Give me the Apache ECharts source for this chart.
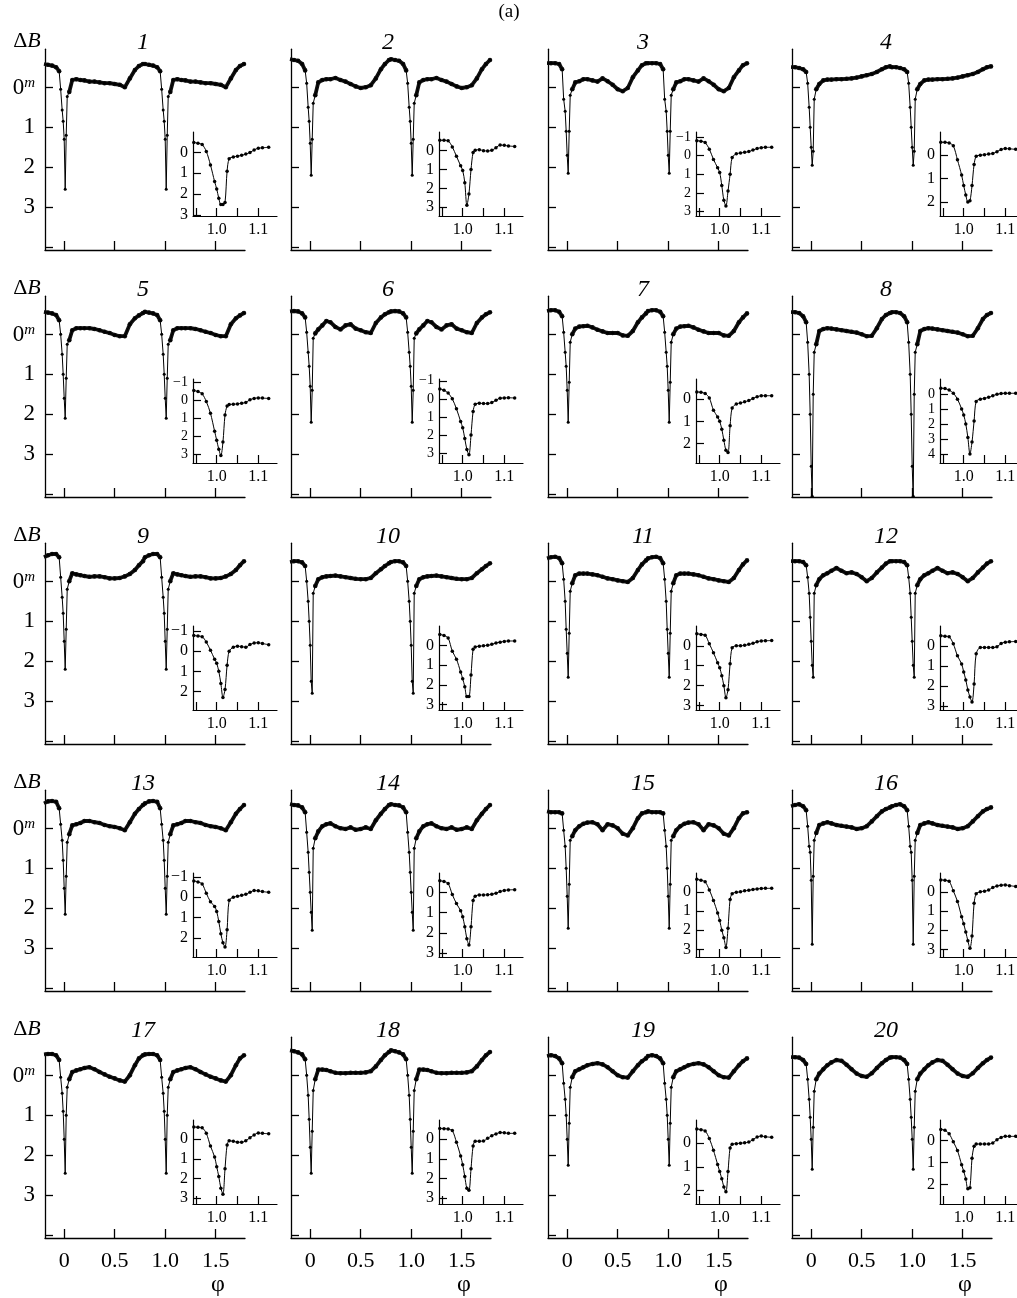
<!DOCTYPE html>
<html>
<head>
<meta charset="utf-8">
<script src="https://cdn.jsdelivr.net/npm/echarts@6/dist/echarts.min.js"></script>
<style>
html, body { margin: 0; padding: 0; background: #fff; }
#chart { width: 1017px; height: 1298px; }
</style>
</head>
<body>
<div id="chart"></div>
<script>
// Phase grid of one orbital cycle; every light curve is plotted at φ and at φ+1.
const phase = [-0.20,-0.16,-0.12,-0.08,-0.05,-0.035,-0.02,-0.01,0,0.01,0.02,0.03,0.05,0.08,0.12,0.16,0.20,0.25,0.30,0.35,0.40,0.45,0.50,0.55,0.60,0.65,0.70,0.74,0.78];

// ΔB (mag) of each night on the phase grid above.
const lc1  = [-0.58,-0.56,-0.54,-0.5,-0.4,0.05,0.57,0.85,1.3,2.55,1.2,0.23,0.12,-0.18,-0.2,-0.18,-0.17,-0.14,-0.14,-0.12,-0.1,-0.1,-0.08,-0.06,0.0,-0.22,-0.43,-0.53,-0.58];
const lc2  = [-0.7,-0.68,-0.66,-0.58,-0.42,-0.1,0.5,0.85,1.4,2.2,1.3,0.4,0.2,-0.12,-0.18,-0.2,-0.2,-0.23,-0.18,-0.14,-0.08,-0.02,0.02,0.0,-0.05,-0.22,-0.45,-0.58,-0.68];
const lc3  = [-0.6,-0.6,-0.6,-0.58,-0.45,0.3,0.6,1.1,1.7,2.15,1.1,0.2,0.05,-0.12,-0.15,-0.2,-0.2,-0.17,-0.14,-0.22,-0.15,-0.06,0.05,0.1,0.02,-0.25,-0.42,-0.55,-0.6];
const lc4  = [-0.5,-0.5,-0.48,-0.45,-0.38,-0.1,0.5,1.0,1.5,1.95,1.6,0.3,0.05,-0.08,-0.17,-0.19,-0.19,-0.2,-0.2,-0.21,-0.22,-0.24,-0.27,-0.3,-0.33,-0.38,-0.45,-0.5,-0.52];
const lc5  = [-0.56,-0.54,-0.52,-0.48,-0.35,0.0,0.5,1.0,1.6,2.1,1.1,0.25,0.15,-0.1,-0.15,-0.15,-0.15,-0.15,-0.13,-0.1,-0.06,-0.03,0.02,0.05,0.05,-0.25,-0.4,-0.47,-0.53];
const lc6  = [-0.57,-0.58,-0.57,-0.52,-0.42,-0.05,0.45,0.8,1.3,2.2,1.4,0.1,-0.02,-0.12,-0.22,-0.33,-0.3,-0.18,-0.12,-0.22,-0.25,-0.14,-0.1,-0.05,-0.03,-0.28,-0.42,-0.5,-0.55];
const lc7  = [-0.58,-0.6,-0.6,-0.56,-0.45,-0.05,0.45,0.8,1.4,2.2,1.2,0.2,0.0,-0.14,-0.19,-0.2,-0.21,-0.17,-0.11,-0.07,-0.03,-0.03,-0.03,0.03,0.04,-0.08,-0.3,-0.42,-0.52];
const lc8  = [-0.55,-0.55,-0.53,-0.45,-0.3,0.2,1.0,2.0,3.3,4.05,1.5,0.45,0.25,-0.08,-0.13,-0.15,-0.14,-0.12,-0.1,-0.08,-0.06,-0.04,0.0,0.05,0.04,-0.15,-0.38,-0.48,-0.53];
const lc9  = [-0.6,-0.65,-0.68,-0.68,-0.6,-0.1,0.4,0.8,1.5,2.2,1.2,0.2,0.0,-0.2,-0.17,-0.15,-0.13,-0.11,-0.12,-0.12,-0.1,-0.07,-0.07,-0.08,-0.12,-0.18,-0.28,-0.4,-0.5];
const lc10 = [-0.48,-0.5,-0.5,-0.47,-0.38,0.0,0.5,1.0,1.6,2.5,2.8,0.3,0.12,-0.05,-0.1,-0.12,-0.13,-0.14,-0.12,-0.1,-0.08,-0.06,-0.05,-0.05,-0.08,-0.2,-0.3,-0.38,-0.45];
const lc11 = [-0.57,-0.6,-0.61,-0.58,-0.45,-0.05,0.5,1.2,1.8,2.4,1.3,0.25,0.05,-0.15,-0.19,-0.19,-0.19,-0.17,-0.15,-0.11,-0.07,-0.05,-0.02,0.0,0.02,-0.08,-0.28,-0.42,-0.52];
const lc12 = [-0.5,-0.5,-0.5,-0.48,-0.4,-0.1,0.3,0.9,1.5,2.1,2.4,0.3,0.1,-0.05,-0.15,-0.2,-0.26,-0.33,-0.26,-0.2,-0.22,-0.18,-0.1,0.0,-0.08,-0.22,-0.34,-0.44,-0.5];
const lc13 = [-0.62,-0.67,-0.68,-0.66,-0.5,-0.1,0.3,0.8,1.5,2.15,1.2,0.35,0.15,-0.07,-0.1,-0.13,-0.18,-0.18,-0.15,-0.13,-0.08,-0.05,-0.03,0.0,0.05,-0.15,-0.36,-0.48,-0.58];
const lc14 = [-0.6,-0.58,-0.57,-0.52,-0.4,0.1,0.6,1.1,1.6,2.1,2.55,0.5,0.25,0.08,-0.05,-0.1,-0.12,-0.05,0.0,0.02,-0.02,0.04,0.02,-0.02,0.02,-0.2,-0.36,-0.48,-0.58];
const lc15 = [-0.42,-0.4,-0.4,-0.4,-0.37,0.05,0.45,1.0,1.7,2.5,1.4,0.3,0.2,0.05,-0.05,-0.11,-0.14,-0.15,-0.1,0.05,-0.1,-0.07,0.0,0.14,0.18,0.0,-0.25,-0.37,-0.4];
const lc16 = [-0.55,-0.58,-0.6,-0.55,-0.45,-0.05,0.45,0.6,1.3,2.9,1.2,0.3,0.12,-0.08,-0.12,-0.15,-0.12,-0.08,-0.06,-0.04,-0.02,0.02,0.0,-0.05,-0.17,-0.3,-0.42,-0.48,-0.52];
const lc17 = [-0.52,-0.53,-0.53,-0.5,-0.38,0.05,0.45,0.9,1.6,2.45,1.0,0.3,0.1,-0.08,-0.12,-0.15,-0.18,-0.2,-0.15,-0.08,-0.02,0.04,0.08,0.13,0.16,0.0,-0.25,-0.42,-0.5];
const lc18 = [-0.62,-0.6,-0.57,-0.52,-0.4,0.0,0.5,1.1,1.8,2.45,1.4,0.38,0.1,-0.14,-0.14,-0.13,-0.1,-0.06,-0.05,-0.05,-0.06,-0.06,-0.06,-0.07,-0.1,-0.22,-0.38,-0.5,-0.58];
const lc19 = [-0.48,-0.5,-0.48,-0.42,-0.3,0.2,0.6,1.0,1.6,2.25,1.2,0.3,0.05,-0.1,-0.15,-0.2,-0.25,-0.28,-0.3,-0.27,-0.2,-0.1,0.0,0.05,0.06,-0.1,-0.25,-0.35,-0.42];
const lc20 = [-0.45,-0.45,-0.44,-0.38,-0.28,0.1,0.6,1.05,1.6,2.35,1.3,0.4,0.1,-0.04,-0.15,-0.25,-0.32,-0.38,-0.36,-0.26,-0.15,-0.04,0.02,0.04,-0.05,-0.18,-0.3,-0.38,-0.44];

// Phases of the enlarged eclipse plots.
const insetPhase = [0.945,0.955,0.965,0.975,0.985,0.995,1.0,1.005,1.01,1.015,1.02,1.025,1.03,1.04,1.05,1.06,1.07,1.08,1.09,1.10,1.11,1.125];

// ΔB across the eclipse for each night.
const ec1  = [-0.48,-0.44,-0.38,-0.05,0.6,1.4,1.75,2.2,2.5,2.5,2.4,0.9,0.3,0.22,0.18,0.13,0.08,0.0,-0.12,-0.2,-0.22,-0.25];
const ec2  = [-0.55,-0.55,-0.52,-0.2,0.3,0.8,1.05,1.7,2.9,2.3,1.0,0.1,-0.02,-0.05,0.0,0.02,-0.02,-0.15,-0.3,-0.28,-0.25,-0.22];
const ec3  = [-0.8,-0.78,-0.7,-0.35,0.2,0.65,0.9,1.6,2.4,2.7,1.9,1.0,0.1,-0.1,-0.14,-0.18,-0.22,-0.3,-0.38,-0.43,-0.45,-0.45];
const ec4  = [-0.55,-0.55,-0.52,-0.4,0.2,0.85,1.3,1.7,2.0,1.95,1.3,0.4,0.05,0.0,-0.02,-0.05,-0.07,-0.15,-0.24,-0.28,-0.27,-0.25];
const ec5  = [-0.56,-0.5,-0.38,0.05,0.7,1.7,2.2,2.7,3.05,2.3,0.8,0.3,0.22,0.2,0.18,0.14,0.1,-0.05,-0.12,-0.15,-0.14,-0.12];
const ec6  = [-0.55,-0.48,-0.32,0.0,0.55,1.25,1.6,2.2,2.8,3.1,2.0,0.7,0.3,0.24,0.26,0.26,0.2,0.08,-0.04,-0.05,-0.06,-0.05];
const ec7  = [-0.32,-0.3,-0.25,-0.05,0.5,0.8,1.0,1.35,1.85,2.3,2.4,1.2,0.4,0.22,0.18,0.12,0.07,-0.03,-0.1,-0.15,-0.15,-0.15];
const ec8  = [-0.38,-0.35,-0.25,-0.05,0.35,1.0,1.4,2.0,2.9,4.0,3.2,1.8,0.5,0.35,0.3,0.22,0.12,0.03,-0.02,-0.04,-0.04,-0.04];
const ec9  = [-0.78,-0.75,-0.72,-0.45,-0.05,0.4,0.6,1.0,1.6,2.3,1.9,0.7,0.0,-0.2,-0.25,-0.22,-0.2,-0.33,-0.4,-0.42,-0.38,-0.32];
const ec10 = [-0.55,-0.5,-0.37,0.3,0.7,1.35,1.7,2.1,2.6,2.6,1.5,0.2,0.08,0.05,0.02,0.0,-0.05,-0.12,-0.16,-0.2,-0.22,-0.22];
const ec11 = [-0.6,-0.57,-0.53,-0.1,0.35,0.85,1.1,1.5,2.0,2.6,2.2,0.9,0.1,0.0,0.0,-0.02,-0.07,-0.12,-0.2,-0.24,-0.25,-0.26];
const ec12 = [-0.5,-0.48,-0.45,-0.1,0.5,0.9,1.3,1.7,2.2,2.55,2.8,1.9,0.4,0.08,0.08,0.08,0.08,0.05,-0.12,-0.18,-0.2,-0.22];
const ec13 = [-0.8,-0.76,-0.66,-0.2,0.22,0.45,0.7,1.2,1.8,2.25,2.45,1.6,0.15,0.0,-0.05,-0.1,-0.15,-0.25,-0.33,-0.32,-0.28,-0.25];
const ec14 = [-0.58,-0.55,-0.45,0.1,0.55,0.9,1.2,1.7,2.3,2.6,1.7,0.4,0.18,0.12,0.12,0.11,0.08,0.03,-0.05,-0.1,-0.13,-0.14];
const ec15 = [-0.65,-0.6,-0.52,-0.1,0.45,1.1,1.5,2.0,2.4,2.9,1.9,0.4,0.1,0.03,0.0,-0.05,-0.08,-0.12,-0.15,-0.17,-0.18,-0.18];
const ec16 = [-0.62,-0.6,-0.55,-0.05,0.5,1.3,1.67,2.1,2.55,2.95,2.3,0.6,0.1,0.0,-0.03,-0.1,-0.22,-0.3,-0.34,-0.36,-0.32,-0.28];
const ec17 = [-0.62,-0.61,-0.58,-0.3,0.35,0.9,1.4,1.9,2.5,2.8,1.5,0.3,0.08,0.1,0.15,0.15,0.08,-0.08,-0.22,-0.32,-0.3,-0.28];
const ec18 = [-0.55,-0.54,-0.52,-0.44,0.15,0.85,1.3,1.9,2.5,2.6,1.5,0.35,0.1,0.1,0.09,-0.05,-0.18,-0.27,-0.34,-0.33,-0.3,-0.3];
const ec19 = [-0.6,-0.57,-0.52,-0.2,0.3,0.9,1.2,1.5,1.85,2.05,1.2,0.2,0.05,0.02,0.0,-0.02,-0.05,-0.15,-0.26,-0.3,-0.27,-0.25];
const ec20 = [-0.52,-0.48,-0.32,0.05,0.45,1.1,1.4,1.75,2.2,2.15,0.8,0.25,0.15,0.15,0.15,0.15,0.1,-0.05,-0.15,-0.2,-0.2,-0.2];

// Tick positions and labels.
const phaseTicks = [0, 0.5, 1, 1.5];
const magTicks = [0, 1, 2, 3, 4];
const magLabels = [0, 1, 2, 3];
const insetPhaseTicks = [0.95, 1.0, 1.05, 1.1];
const insetPhaseLabels = [1.0, 1.1];

// Upper end (brightest ΔB) of each main panel's axis.
const panelTop = [-0.95,-0.95,-0.95,-0.95,-0.95,-0.95,-0.95,-0.95,-0.95,-0.95,-0.95,-0.95,-0.95,-0.95,-0.95,-0.95,-0.55,-0.95,-0.95,-0.95];
// ΔB range of each eclipse plot.
const insetRange = [[-0.98,3.05],[-0.99,3.47],[-1.27,3.24],[-0.99,2.6],[-1.2,3.46],[-1.1,3.55],[-0.9,2.87],[-0.99,4.6],[-1.25,2.92],[-0.98,3.28],
                    [-0.99,3.22],[-0.99,3.2],[-1.2,2.95],[-0.97,3.2],[-0.98,3.4],[-0.98,3.4],[-0.98,3.3],[-0.98,3.3],[-0.98,2.57],[-0.95,2.9]];

const curves = [lc1,lc2,lc3,lc4,lc5,lc6,lc7,lc8,lc9,lc10,lc11,lc12,lc13,lc14,lc15,lc16,lc17,lc18,lc19,lc20];
const eclipses = [ec1,ec2,ec3,ec4,ec5,ec6,ec7,ec8,ec9,ec10,ec11,ec12,ec13,ec14,ec15,ec16,ec17,ec18,ec19,ec20];

const FONT = "'Liberation Serif', 'Times New Roman', serif";
const INK = '#000';
const colX = [45, 291, 548, 792];
const rowY = [250, 497, 744, 991, 1238];
const MAG_PX = 40;
const MAG_MAX = 4.07;

function fmtPhase(v) { return v === 0 ? '0' : v.toFixed(1); }
function fmtMag(v) { return v < 0 ? '\u2212' + Math.abs(v) : String(v); }

const grid = [], xAxis = [], yAxis = [], series = [];

curves.forEach((vals, i) => {
  const r = Math.floor(i / 4), c = i % 4;
  const h = (MAG_MAX - panelTop[i]) * MAG_PX;
  grid.push({ left: colX[c], top: rowY[r] - h, width: 200, height: h, containLabel: false, outerBoundsMode: 'none' });
  grid.push({ left: colX[c] + 148, top: rowY[r] - 118, width: 84, height: 84, containLabel: false, outerBoundsMode: 'none' });

  const mg = 2 * i, ig = 2 * i + 1;
  xAxis.push({
    type: 'value', gridIndex: mg, min: -0.19, max: 1.79,
    axisLine: { onZero: false, lineStyle: { color: INK, width: 1.3 } },
    axisTick: { inside: true, length: 9, customValues: phaseTicks, lineStyle: { color: INK, width: 1.3 } },
    axisLabel: { show: r === 4, customValues: phaseTicks, formatter: fmtPhase, margin: 12,
                 fontFamily: FONT, fontSize: 22, color: INK },
    splitLine: { show: false }
  });
  xAxis.push({
    type: 'value', gridIndex: ig, min: 0.943, max: 1.145,
    axisLine: { onZero: false, lineStyle: { color: INK, width: 1.2 } },
    axisTick: { inside: true, length: 8, customValues: insetPhaseTicks, lineStyle: { color: INK, width: 1.2 } },
    axisLabel: { show: true, customValues: insetPhaseLabels, formatter: v => v.toFixed(1), margin: 6,
                 fontFamily: FONT, fontSize: 16, color: INK },
    splitLine: { show: false }
  });
  yAxis.push({
    type: 'value', gridIndex: mg, inverse: true, min: panelTop[i], max: MAG_MAX,
    axisLine: { onZero: false, lineStyle: { color: INK, width: 1.3 } },
    axisTick: { inside: true, length: 8, customValues: magTicks, lineStyle: { color: INK, width: 1.3 } },
    axisLabel: { show: c === 0, customValues: magLabels, margin: 10,
                 formatter: v => v === 0 ? '{z|0}{m|m}' : String(v),
                 fontFamily: FONT, fontSize: 23, color: INK,
                 rich: { z: { fontFamily: FONT, fontSize: 23, color: INK, lineHeight: 24, verticalAlign: 'bottom' },
                         m: { fontFamily: FONT, fontSize: 15, fontStyle: 'italic', color: INK, lineHeight: 24, verticalAlign: 'top', padding: [0, 0, 9, 0] } } },
    splitLine: { show: false }
  });
  const [lo, hi] = insetRange[i];
  const iTicks = [];
  for (let k = Math.ceil(lo); k <= Math.floor(hi); k++) iTicks.push(k);
  // tightly stacked scales (wide ΔB range) get a slightly smaller font so every label fits
  const iFont = (hi - lo) > 4.5 ? 14 : 16;
  yAxis.push({
    type: 'value', gridIndex: ig, inverse: true, min: lo, max: hi,
    axisLine: { onZero: false, lineStyle: { color: INK, width: 1.2 } },
    axisTick: { inside: true, length: 8, customValues: iTicks, lineStyle: { color: INK, width: 1.2 } },
    axisLabel: { show: true, customValues: iTicks, formatter: fmtMag, margin: 5, hideOverlap: false,
                 lineHeight: iFont, fontFamily: FONT, fontSize: iFont, color: INK },
    splitLine: { show: false }
  });

  // two copies of the cycle: φ and φ+1
  const all = [], band = [];
  [0, 1].forEach(k => {
    phase.forEach((p, j) => all.push([p + k, vals[j]]));
  });
  // out-of-eclipse stretches, drawn as a broad band of dense observations
  phase.forEach((p, j) => { if (p <= -0.05) band.push([p, vals[j]]); });
  band.push([0, '-']);
  phase.forEach((p, j) => { if (p >= 0.05) band.push([p, vals[j]]); });
  phase.forEach((p, j) => { if (p <= -0.05) band.push([p + 1, vals[j]]); });
  band.push([1, '-']);
  phase.forEach((p, j) => { if (p >= 0.05) band.push([p + 1, vals[j]]); });

  series.push({
    type: 'line', xAxisIndex: mg, yAxisIndex: mg, data: band, clip: true, silent: true,
    symbol: 'circle', symbolSize: 4.6, showSymbol: true, showAllSymbol: true,
    smooth: false, connectNulls: false,
    itemStyle: { color: '#111' },
    lineStyle: { color: '#111', width: 3.8 }, z: 2
  });
  series.push({
    type: 'line', xAxisIndex: mg, yAxisIndex: mg, data: all, clip: true, silent: true,
    symbol: 'circle', symbolSize: 3, showSymbol: true, showAllSymbol: true,
    itemStyle: { color: INK }, lineStyle: { color: INK, width: 1 }, z: 3
  });
  series.push({
    type: 'line', xAxisIndex: ig, yAxisIndex: ig, clip: true, silent: true,
    data: insetPhase.map((p, j) => [p, eclipses[i][j]]),
    symbol: 'circle', symbolSize: 3.5, showSymbol: true, showAllSymbol: true, smooth: 0.3,
    itemStyle: { color: INK }, lineStyle: { color: INK, width: 1 }, z: 3
  });
});

// Texts: figure tag, night numbers, axis names
const graphic = [];
function txt(x, y, text, size, style, align) {
  graphic.push({ type: 'text', x: x, y: y, silent: true,
    style: { text: text, fill: INK, font: (style || '') + ' ' + size + 'px ' + FONT,
             textAlign: align || 'center', textVerticalAlign: 'middle',
             align: align || 'center', verticalAlign: 'middle' } });
}
txt(509, 12, '(a)', 19);
const titleX = [143, 388, 643, 886];
for (let i = 0; i < 20; i++) {
  const r = Math.floor(i / 4), c = i % 4;
  txt(titleX[c], 43 + 247 * r, String(i + 1), 24, 'italic');
}
for (let r = 0; r < 5; r++) {
  graphic.push({ type: 'text', x: 27, y: 41 + 247 * r, silent: true,
    style: { text: '{d|\u0394}{b|B}', fill: INK, align: 'center', verticalAlign: 'middle',
             textAlign: 'center', textVerticalAlign: 'middle',
             rich: { d: { font: '22px ' + FONT, fill: INK }, b: { font: 'italic 22px ' + FONT, fill: INK } } } });
}
colX.forEach(x => txt(x + 173, 1285, '\u03C6', 24));

const chart = echarts.init(document.getElementById('chart'), null, { renderer: 'canvas' });
chart.setOption({
  backgroundColor: '#fff',
  animation: false,
  grid: grid,
  xAxis: xAxis,
  yAxis: yAxis,
  series: series,
  graphic: graphic
});
</script>
</body>
</html>
